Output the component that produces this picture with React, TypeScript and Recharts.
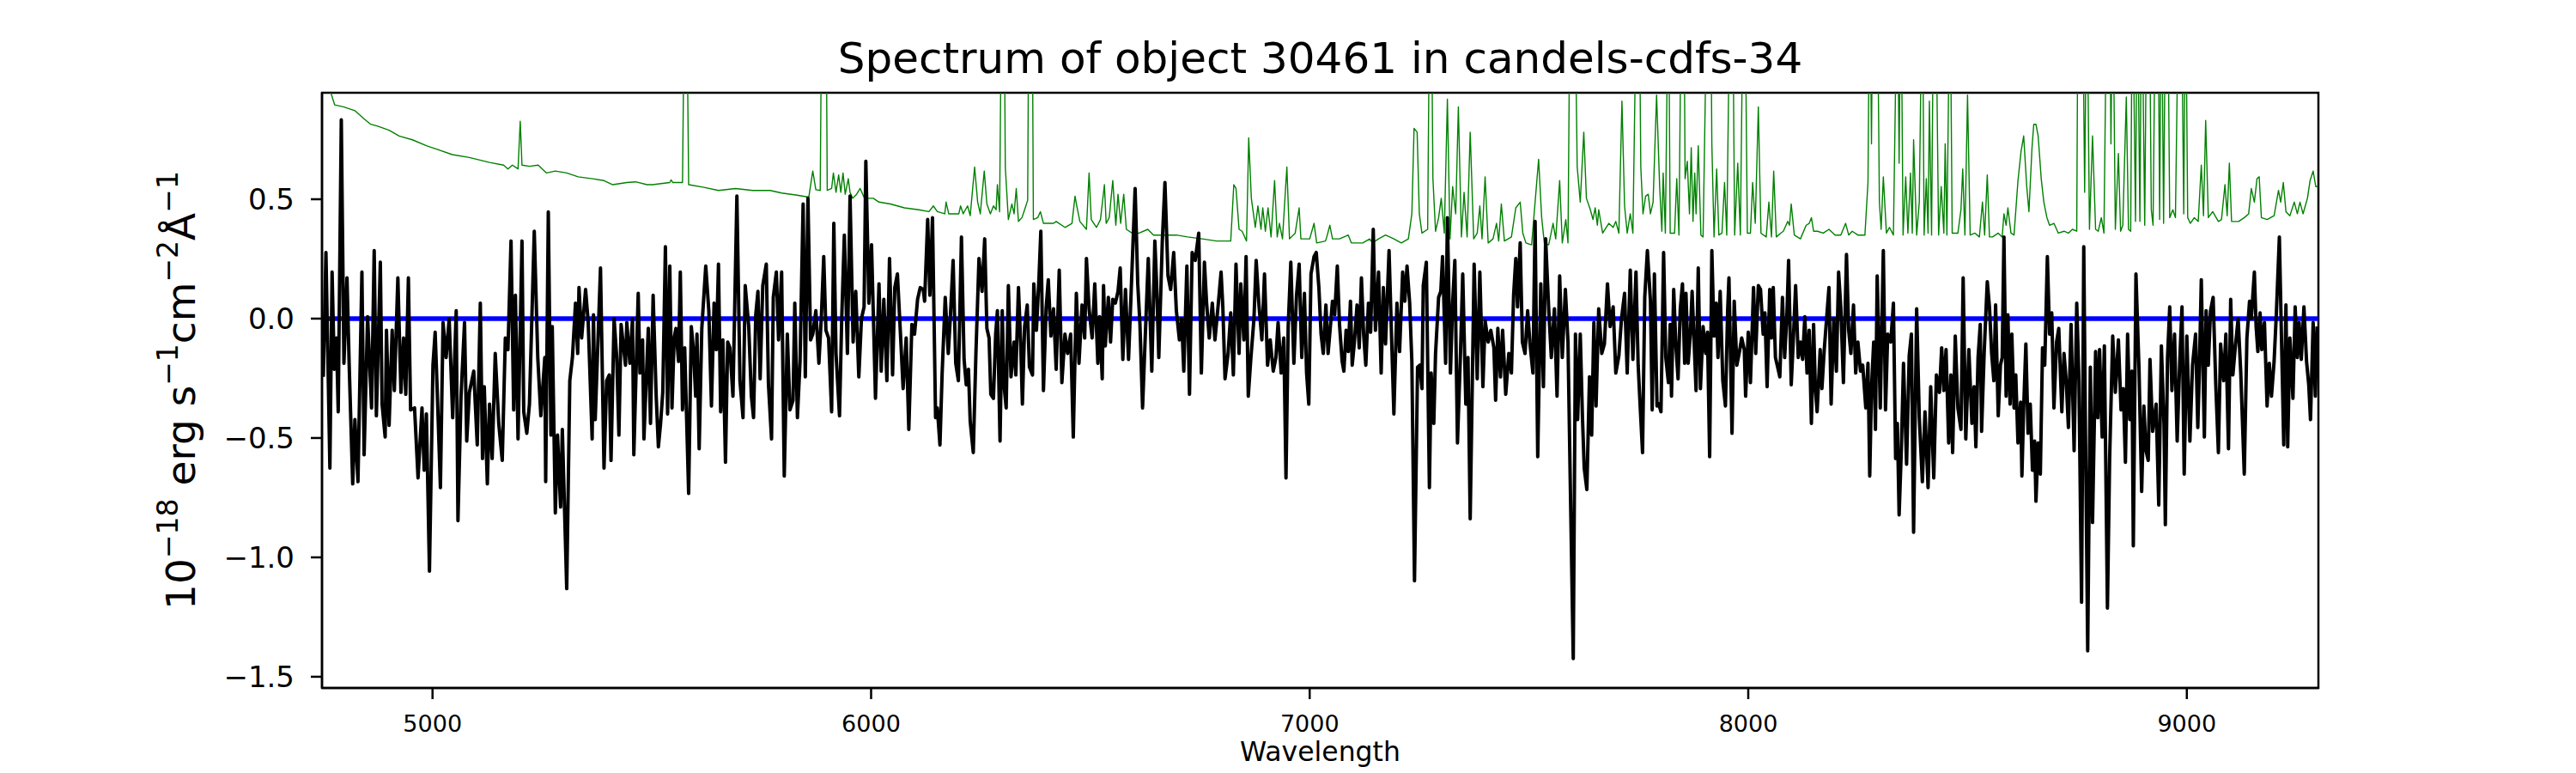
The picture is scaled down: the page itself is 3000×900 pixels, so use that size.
import React from 'react';
import { LineChart, Line, XAxis, YAxis, ReferenceArea } from 'recharts';

const FONT = '"DejaVu Sans", Verdana, sans-serif';

const titleText = 'Spectrum of object 30461 in candels-cdfs-34';
const xLabelText = 'Wavelength';
const wavelengthTicks = [5000, 6000, 7000, 8000, 9000];
const fluxTicks = [-1.5, -1.0, -0.5, 0.0, 0.5];
const wavelengthRange = [4748, 9300];
const fluxRange = [-1.547, 0.946];

// observed flux (black), [wavelength, flux]
const spectrum = [
  [4751,-0.244],[4757,0.277],[4766,-0.626],[4771,0.195],[4776,-0.212],[4781,-0.081],[4785,-0.390],[4792,0.833],[4798,-0.187],[4805,0.171],
  [4810,-0.195],[4818,-0.692],[4823,-0.423],[4830,-0.683],[4839,0.195],[4844,-0.570],[4852,0.008],[4861,-0.374],[4867,0.285],[4872,-0.407],
  [4881,0.236],[4885,-0.358],[4892,-0.496],[4895,-0.049],[4901,-0.447],[4908,-0.049],[4913,-0.301],[4921,0.171],[4928,-0.309],[4934,-0.081],
  [4939,-0.317],[4945,0.171],[4950,-0.382],[4959,-0.374],[4967,-0.667],[4976,-0.374],[4981,-0.635],[4986,-0.399],[4993,-1.058],[5001,-0.195],
  [5006,-0.057],[5011,-0.317],[5018,-0.708],[5024,-0.016],[5031,-0.163],[5038,0],[5046,-0.415],[5054,0.033],[5058,-0.846],[5065,-0.325],
  [5073,-0.016],[5078,-0.513],[5084,-0.309],[5094,-0.220],[5102,-0.529],[5109,0.065],[5114,-0.586],[5118,-0.285],[5125,-0.692],[5130,-0.358],
  [5136,-0.586],[5143,-0.146],[5151,-0.439],[5159,-0.594],[5166,-0.081],[5172,-0.130],[5179,0.325],[5185,-0.382],[5189,0.098],[5195,-0.504],
  [5204,0.325],[5208,-0.390],[5215,-0.480],[5221,-0.358],[5232,0.366],[5240,-0.163],[5247,-0.407],[5256,-0.163],[5258,-0.683],[5264,0.447],
  [5270,-0.488],[5273,-0.033],[5280,-0.814],[5285,-0.488],[5292,-0.789],[5296,-0.464],[5306,-1.131],[5313,-0.260],[5319,-0.163],[5326,0.065],
  [5331,-0.146],[5334,0.130],[5340,-0.081],[5349,0.122],[5355,-0.016],[5364,-0.504],[5367,0.016],[5371,-0.423],[5383,0.212],[5391,-0.626],
  [5397,-0.260],[5403,-0.236],[5407,-0.594],[5414,0],[5420,-0.163],[5425,-0.488],[5430,-0.024],[5440,-0.195],[5443,-0.016],[5450,-0.187],
  [5456,0],[5459,-0.570],[5469,0.106],[5473,-0.228],[5479,-0.089],[5482,-0.504],[5492,-0.041],[5497,-0.439],[5503,0.098],
  [5510,-0.325],[5515,-0.537],[5520,-0.439],[5525,-0.309],[5531,0.301],[5536,-0.399],[5541,0.220],[5546,-0.374],[5551,-0.081],[5555,-0.041],
  [5561,-0.179],[5565,0.195],[5570,-0.382],[5575,-0.122],[5584,-0.732],[5590,-0.033],[5595,-0.130],[5600,-0.325],[5603,-0.065],[5608,-0.545],
  [5614,-0.041],[5623,0.220],[5630,0.033],[5636,-0.366],[5642,0.065],[5647,-0.130],[5652,0.228],[5657,-0.390],[5662,-0.089],[5668,-0.602],
  [5673,-0.098],[5678,-0.122],[5685,-0.325],[5694,0.513],[5701,-0.260],[5708,-0.415],[5713,0.138],[5721,-0.033],[5727,-0.325],[5732,-0.415],
  [5737,0.016],[5742,0.114],[5747,-0.252],[5753,0.138],[5761,0.228],[5766,-0.277],[5773,-0.504],[5777,0.089],[5784,0.195],[5789,-0.089],
  [5796,0.195],[5802,-0.659],[5809,-0.065],[5815,-0.382],[5822,-0.342],[5826,0.065],[5832,-0.415],[5838,-0.179],[5845,0.480],[5850,-0.244],
  [5856,0.504],[5862,-0.089],[5867,-0.065],[5874,0.033],[5881,-0.187],[5887,0.024],[5892,0.260],[5897,-0.049],[5903,-0.081],[5910,-0.390],
  [5915,0.399],[5920,-0.146],[5928,-0.407],[5933,0],[5939,0.350],[5946,-0.146],[5952,0.513],[5959,-0.098],[5965,0.114],[5972,-0.244],
  [5978,0],[5984,0.049],[5988,0.659],[5995,0.065],[6001,0.309],[6010,-0.334],[6018,0.146],[6023,-0.220],[6029,0.081],[6036,-0.260],
  [6042,0.252],[6049,-0.236],[6054,0.130],[6060,0.187],[6067,-0.065],[6073,-0.293],[6080,-0.081],[6086,-0.464],[6093,-0.024],[6099,-0.065],
  [6106,0.081],[6112,0.130],[6119,0.122],[6122,0.073],[6129,0.415],[6134,0.098],[6140,0.423],[6147,-0.415],[6151,-0.374],[6157,-0.529],
  [6162,-0.228],[6169,0.089],[6176,-0.146],[6181,0.016],[6187,0.244],[6193,-0.187],[6199,-0.260],[6206,0.342],[6212,-0.171],[6217,-0.277],
  [6222,-0.212],[6226,-0.431],[6233,-0.561],[6239,-0.146],[6246,0.252],[6253,0.114],[6259,0.334],[6264,-0.041],
  [6269,-0.081],[6273,-0.317],[6279,-0.334],[6284,-0.065],[6288,0.033],[6294,-0.513],[6299,0.033],[6303,-0.277],[6308,-0.374],[6313,0.138],
  [6319,-0.244],[6326,-0.098],[6330,-0.236],[6336,0.130],[6341,-0.098],[6345,-0.358],[6350,-0.033],[6356,0.057],[6361,-0.203],[6368,-0.236],
  [6371,0.146],[6377,-0.049],[6383,0.179],[6387,0.366],[6393,-0.301],[6399,0.041],[6404,0.163],[6410,-0.073],[6416,0.041],[6422,-0.212],
  [6429,0.203],[6435,-0.268],[6442,-0.065],[6448,-0.146],[6455,-0.065],[6461,-0.496],[6468,0.106],[6474,-0.187],[6481,0.057],[6487,-0.081],
  [6491,0.252],[6497,0.041],[6504,-0.081],[6510,0.146],[6517,-0.187],[6521,0.008],[6527,-0.252],[6530,0.138],[6534,-0.114],[6541,0.089],
  [6546,-0.098],[6551,0.081],[6557,0.065],[6563,0.114],[6568,0.212],[6574,-0.171],[6580,0.122],[6587,-0.171],[6592,0.065],[6597,0.309],
  [6602,0.545],[6608,0.146],[6613,-0.024],[6619,-0.374],[6625,-0.081],[6632,0.252],[6640,-0.220],[6647,0.325],[6651,0.146],[6656,-0.163],
  [6664,0.325],[6670,0.570],[6677,0.179],[6683,0.122],[6690,0.277],[6696,0.033],[6703,-0.089],[6708,0],[6713,-0.220],[6720,0.220],
  [6726,-0.317],[6732,0.277],[6739,0.244],[6747,0.358],[6753,-0.228],[6760,0.236],[6765,0.065],[6771,-0.081],[6778,0.065],[6784,-0.089],
  [6791,0.049],[6798,0.195],[6802,0.049],[6807,-0.252],[6814,-0.146],[6820,0.024],[6826,-0.236],[6832,0.228],[6839,-0.146],[6843,0.146],
  [6850,-0.089],[6855,0.260],[6860,-0.325],[6866,-0.163],[6873,0],[6878,0.244],[6884,0.065],[6891,-0.089],[6897,0.187],[6904,-0.195],
  [6910,-0.089],[6917,-0.220],[6923,-0.163],[6928,-0.016],[6935,-0.228],[6941,-0.081],[6946,-0.667],[6951,-0.033],[6957,0.236],[6964,-0.187],
  [6970,0.098],[6976,0.228],[6982,-0.163],[6988,0.106],[6993,-0.228],[6998,-0.358],[7003,0.187],[7010,0.260],[7015,0.277],[7021,0.130],
  [7026,-0.065],[7031,-0.146],
  [7037,0.057],[7042,-0.146],[7048,-0.016],[7052,0.073],[7057,0.016],[7063,0.220],[7068,-0.024],[7074,-0.179],[7078,-0.220],[7083,-0.049],
  [7088,-0.138],[7093,0.073],[7097,-0.195],[7102,-0.098],[7108,0.057],[7113,-0.122],[7118,0.171],[7123,-0.065],[7128,-0.195],[7134,0.065],
  [7139,-0.057],[7145,0.374],[7150,-0.049],[7157,0.195],[7163,-0.228],[7168,0.130],[7173,-0.106],[7181,0.285],[7186,-0.033],[7192,-0.399],
  [7199,0.065],[7205,-0.138],[7212,0.195],[7217,0.073],[7222,0.220],[7228,0.065],[7233,-0.179],[7239,-1.098],[7246,-0.203],[7251,-0.195],
  [7256,-0.293],[7259,0.138],[7266,0.236],[7273,-0.708],[7277,-0.228],[7283,-0.439],[7287,-0.146],[7294,0.089],[7299,0.114],[7303,0.260],
  [7310,-0.187],[7314,0.423],[7321,-0.228],[7326,0.065],[7331,0.244],[7337,-0.521],[7344,-0.138],[7349,0.187],[7356,-0.358],[7361,-0.163],
  [7366,-0.838],[7375,0.228],[7382,-0.252],[7388,0.195],[7395,-0.285],[7400,-0.008],[7407,-0.098],[7413,-0.049],[7420,-0.122],[7424,-0.342],
  [7429,-0.041],[7435,-0.244],[7440,-0.049],[7447,-0.317],[7454,-0.146],[7460,-0.228],[7465,0.098],[7470,0.252],[7474,0.049],[7480,0.317],
  [7485,-0.098],[7491,-0.146],[7497,0.033],[7502,-0.098],[7509,-0.228],[7514,0.407],[7520,-0.578],[7527,0.146],[7533,-0.285],[7538,0.334],
  [7545,0.041],[7551,-0.163],[7558,0.041],[7564,-0.325],[7570,0.179],[7576,-0.163],[7583,0.122],[7589,-0.098],[7594,-0.667],[7601,-1.424],
  [7606,-0.065],[7611,-0.423],[7617,-0.065],[7622,-0.415],[7626,-0.626],[7632,-0.716],[7638,-0.244],[7643,-0.488],[7648,-0.016],[7653,-0.366],
  [7659,0.041],[7666,-0.146],[7672,-0.106],[7679,0.146],[7685,-0.033],[7692,0.049],[7698,-0.228],[7705,-0.155],[7711,0],[7718,0.106],
  [7724,-0.228],[7731,0.203],[7737,-0.171],[7744,0.195],[7749,-0.195],[7754,-0.382],[7759,-0.561],[7764,0.089],[7770,0.285],[7777,0.073],
  [7781,-0.382],[7786,0.187],[7792,-0.366],
  [7796,-0.358],[7801,-0.390],[7807,0.277],[7812,-0.163],[7818,-0.268],[7822,-0.024],[7825,-0.325],[7830,0.122],[7835,-0.114],[7840,-0.252],
  [7845,0.041],[7850,0.146],[7855,-0.187],[7858,0.106],[7863,-0.187],[7868,-0.065],[7872,0.114],[7878,-0.163],[7881,-0.301],[7886,0.212],
  [7891,-0.293],[7897,-0.033],[7903,-0.146],[7907,-0.057],[7912,-0.578],[7917,0.285],[7922,-0.073],[7927,0.065],[7931,-0.163],[7936,0.114],
  [7942,-0.260],[7948,-0.366],[7953,0.033],[7956,0.171],[7963,-0.480],[7968,0.073],[7974,-0.195],[7980,-0.138],[7985,-0.081],[7991,-0.130],
  [7994,-0.325],[8000,-0.057],[8005,-0.268],[8012,0.130],[8017,-0.146],[8023,0.138],[8028,0.122],[8034,-0.065],[8038,0.024],[8043,-0.285],
  [8049,0.122],[8053,-0.081],[8057,0.130],[8062,-0.163],[8067,-0.203],[8072,-0.244],[8078,0.089],[8083,-0.163],[8088,0.008],[8092,0.244],
  [8098,-0.277],[8103,-0.081],[8108,0.138],[8114,-0.163],[8119,-0.098],[8124,-0.171],[8129,0.008],[8134,-0.228],[8139,-0.049],[8144,-0.439],
  [8149,-0.024],[8153,-0.293],[8157,-0.390],[8164,-0.130],[8168,-0.293],[8173,-0.138],[8178,-0.016],[8184,0.130],[8189,-0.358],[8195,0],
  [8201,-0.220],[8206,0.195],[8211,0.049],[8217,-0.268],[8224,0.269],[8229,-0.049],[8234,-0.146],[8240,0.057],[8245,-0.228],[8250,-0.098],
  [8256,-0.220],[8261,-0.195],[8268,-0.374],[8273,-0.187],[8277,-0.659],[8281,-0.293],[8286,-0.098],[8290,-0.464],[8294,0.179],[8301,-0.374],
  [8308,0.285],[8313,-0.382],[8318,-0.065],[8325,-0.098],[8331,0.065],[8336,-0.586],[8340,-0.439],[8344,-0.822],[8349,-0.553],[8354,-0.187],
  [8361,-0.610],[8367,-0.155],[8372,-0.065],[8377,-0.895],[8384,0.041],[8390,-0.415],[8397,-0.683],[8403,-0.390],[8410,-0.708],[8416,-0.285],
  [8423,-0.667],[8429,-0.236],[8436,-0.309],[8441,-0.122],[8446,-0.301],[8451,-0.130],[8457,-0.521],[8462,-0.236],[8466,-0.561],[8472,-0.073],
  [8478,-0.374],[8485,-0.464],[8490,0.171],[8496,-0.504],[8503,-0.130],[8510,-0.439],[8515,-0.285],[8519,-0.537],[8524,-0.163],[8529,-0.024],
  [8532,-0.472],[8538,-0.138],[8545,0.155],[8550,0.049],[8555,-0.146],
  [8560,-0.260],[8564,0.057],[8570,-0.407],[8575,-0.195],[8579,-0.163],[8583,0.342],[8588,-0.325],[8592,0.016],[8597,-0.358],[8601,-0.065],
  [8606,-0.374],[8610,-0.236],[8615,-0.521],[8621,-0.350],[8624,-0.659],[8628,-0.374],[8633,-0.106],[8638,-0.480],[8643,-0.358],[8648,-0.635],
  [8653,-0.513],[8656,-0.765],[8661,-0.521],[8666,-0.651],[8671,-0.122],[8676,-0.195],[8682,0.260],[8687,-0.065],[8692,0.024],[8697,-0.374],
  [8703,-0.098],[8708,-0.041],[8715,-0.390],[8720,-0.146],[8725,-0.260],[8730,-0.456],[8736,-0.024],[8743,-0.553],[8749,0.065],[8754,-0.260],
  [8760,-1.188],[8765,0.301],[8769,-0.488],[8774,-1.391],[8780,-0.203],[8785,-0.854],[8792,-0.138],[8797,-0.415],[8801,-0.130],[8807,-0.496],
  [8812,-0.114],[8819,-1.212],[8824,-0.586],[8831,-0.073],[8837,-0.309],[8844,-0.089],[8850,-0.382],[8855,-0.293],[8860,-0.602],[8865,-0.065],
  [8870,-0.423],[8875,-0.220],[8878,-0.952],[8884,0.187],[8891,-0.212],[8897,-0.724],[8902,-0.366],[8907,-0.553],[8912,-0.594],[8916,-0.171],
  [8922,-0.472],[8930,-0.358],[8936,-0.781],[8942,-0.114],[8948,-0.447],[8951,-0.863],[8956,-0.163],[8961,0.049],[8966,-0.301],[8972,-0.065],
  [8978,-0.513],[8984,-0.171],[8989,0.049],[8994,-0.651],[9000,-0.073],[9007,-0.513],[9013,-0.195],[9020,-0.065],[9025,-0.456],[9028,-0.260],
  [9033,0.163],[9040,-0.496],[9044,0.033],[9049,-0.195],[9054,0.033],[9060,0.089],[9066,-0.277],[9072,-0.561],[9077,-0.106],[9084,-0.260],
  [9089,-0.065],[9095,-0.545],[9100,0.081],[9105,-0.236],[9110,-0.130],[9117,0],[9123,-0.228],[9131,-0.651],[9137,-0.081],[9143,0.073],
  [9147,0],[9154,0.195],[9158,-0.033],[9162,-0.138],[9167,0.024],[9171,-0.130],[9177,-0.016],[9183,-0.366],[9188,-0.187],[9193,-0.325],
  [9199,-0.179],[9204,0.016],[9211,0.342],[9216,-0.098],[9221,-0.529],[9226,0.057],[9230,-0.537],[9235,-0.081],[9242,-0.334],[9247,0.049],
  [9252,-0.163],[9256,-0.016],[9261,-0.171],[9267,0.049],[9273,-0.179],[9278,-0.277],[9282,-0.423],[9288,-0.016],[9293,-0.325],[9297,-0.033],
];

// sky / noise spectrum (green), [wavelength, flux]; 1.5 marks peaks that run off the top
const sky = [
  [4750,1.05],[4768,0.947],[4777,0.895],[4797,0.887],[4823,0.871],[4843,0.838],[4859,0.814],[4875,0.806],[4901,0.789],[4924,0.765],
  [4954,0.749],[4986,0.724],[5012,0.708],[5045,0.687],[5084,0.675],[5130,0.654],[5162,0.643],[5172,0.627],[5182,0.643],[5195,0.627],
  [5200,0.827],[5204,0.643],[5221,0.638],[5241,0.643],[5260,0.610],[5280,0.618],[5306,0.610],[5332,0.594],[5365,0.586],[5391,0.578],
  [5411,0.561],[5443,0.570],[5463,0.573],[5489,0.561],[5502,0.561],[5541,0.570],[5544,0.581],[5548,0.570],[5570,0.570],[5575,1.5],
  [5579,1.5],[5584,0.561],[5619,0.550],[5652,0.537],[5691,0.545],[5730,0.537],[5770,0.537],[5796,0.526],[5828,0.518],[5858,0.509],
  [5867,0.618],[5874,0.540],[5884,0.537],[5888,1.5],[5897,1.5],[5900,0.537],[5910,0.545],[5914,0.610],[5920,0.529],[5926,0.602],
  [5931,0.529],[5936,0.610],[5941,0.521],[5948,0.586],[5952,0.529],[5958,0.504],[5967,0.521],[5975,0.545],[5985,0.504],[6005,0.504],
  [6018,0.488],[6044,0.480],[6076,0.464],[6109,0.456],[6132,0.448],[6142,0.472],[6151,0.448],[6168,0.439],[6171,0.488],[6177,0.439],
  [6200,0.439],[6204,0.472],[6210,0.439],[6220,0.472],[6226,0.431],[6236,0.635],[6243,0.488],[6249,0.439],[6258,0.618],[6264,0.480],
  [6272,0.439],[6279,0.472],[6285,0.456],[6288,0.561],[6293,0.448],[6298,1.5],[6303,1.5],[6306,0.635],[6313,0.415],[6321,0.480],
  [6326,0.439],[6331,0.545],[6336,0.407],[6344,0.423],[6350,0.456],[6357,0.496],[6360,1.5],[6367,1.5],[6370,0.415],[6380,0.423],
  [6386,0.448],[6393,0.399],[6416,0.399],[6422,0.407],[6442,0.382],[6458,0.399],[6465,0.513],[6469,0.472],[6476,0.407],[6491,0.374],
  [6497,0.610],[6502,0.415],[6514,0.382],[6523,0.415],[6532,0.561],[6536,0.399],[6543,0.423],[6551,0.578],[6558,0.391],[6563,0.521],
  [6569,0.399],[6576,0.521],[6582,0.374],[6595,0.358],[6611,0.358],[6631,0.374],[6644,0.350],[6670,0.350],[6696,0.350],[6722,0.342],
  [6755,0.334],[6788,0.325],[6820,0.325],[6827,0.561],[6832,0.545],[6839,0.374],[6846,0.366],[6856,0.325],[6861,0.757],[6867,0.504],
  [6876,0.382],[6882,0.472],[6889,0.374],[6893,0.464],[6899,0.366],[6905,0.464],[6912,0.342],[6920,0.578],[6926,0.342],[6931,0.399],
  [6938,0.334],[6948,0.635],[6954,0.334],[6967,0.358],[6976,0.464],[6980,0.334],[7000,0.334],[7010,0.399],[7016,0.317],[7036,0.325],
  [7039,0.342],[7046,0.391],[7052,0.334],[7068,0.334],[7088,0.350],[7095,0.317],[7121,0.317],[7137,0.334],[7143,0.317],[7157,0.334],
  [7173,0.350],[7192,0.334],[7209,0.317],[7225,0.334],[7233,0.439],[7238,0.797],[7245,0.781],[7250,0.439],[7256,0.358],[7269,0.374],
  [7274,1.5],[7277,1.5],[7281,0.586],[7287,0.366],[7294,0.423],[7300,0.504],[7307,0.358],[7314,0.919],[7320,0.334],[7326,0.553],
  [7333,0.439],[7339,0.887],[7346,0.342],[7352,0.529],[7359,0.342],[7366,0.781],[7374,0.334],[7382,0.358],[7388,0.472],[7393,0.334],
  [7400,0.594],[7407,0.317],[7418,0.334],[7426,0.399],[7431,0.325],[7437,0.480],[7444,0.325],[7460,0.342],[7470,0.464],[7480,0.488],
  [7486,0.358],[7493,0.317],[7506,0.309],[7522,0.667],[7529,0.423],[7535,0.317],[7545,0.309],[7555,0.399],[7561,0.334],[7570,0.578],
  [7576,0.317],[7584,0.415],[7589,0.317],[7594,1.5],[7604,1.5],[7610,0.635],[7617,0.488],[7625,0.781],[7631,0.504],[7640,0.456],
  [7646,0.415],[7651,0.464],[7656,0.391],[7659,0.456],[7668,0.358],[7682,0.399],[7692,0.382],[7698,0.407],[7705,0.358],[7712,0.911],
  [7718,0.472],[7724,0.358],[7731,0.439],[7737,0.358],[7746,1.5],[7751,1.5],[7755,0.635],[7760,0.439],[7766,0.513],[7772,0.521],
  [7777,0.439],[7783,0.488],[7791,0.936],[7798,0.553],[7803,0.366],[7806,0.610],[7811,0.358],[7818,1.5],[7822,0.358],[7832,0.358],
  [7837,0.586],[7842,0.350],[7848,1.5],[7853,1.5],[7856,0.586],[7861,0.659],[7866,0.439],[7870,0.716],[7874,0.407],[7878,0.610],
  [7881,0.439],[7886,0.724],[7892,0.350],[7897,0.342],[7907,1.5],[7914,1.5],[7917,0.732],[7922,0.342],[7928,0.627],[7933,0.350],
  [7940,0.358],[7946,0.570],[7951,0.350],[7959,1.5],[7964,1.5],[7969,0.350],[7976,0.651],[7982,0.350],[7989,1.5],[7992,1.5],
  [7998,0.358],[8005,0.358],[8010,0.570],[8016,0.399],[8023,0.887],[8029,0.358],[8041,0.342],[8047,0.488],[8053,0.342],[8058,0.618],
  [8064,0.342],[8074,0.358],[8080,0.366],[8090,0.407],[8094,0.391],[8098,0.480],[8105,0.350],[8119,0.334],[8132,0.391],[8139,0.399],
  [8144,0.423],[8149,0.366],[8158,0.366],[8171,0.358],[8184,0.374],[8198,0.350],[8211,0.350],[8222,0.399],[8229,0.350],[8237,0.366],
  [8250,0.350],[8266,0.350],[8273,0.570],[8277,1.5],[8281,0.732],[8284,1.5],[8294,1.5],[8299,0.488],[8303,0.374],[8308,0.594],
  [8315,0.358],[8322,0.382],[8331,0.350],[8340,1.5],[8344,0.651],[8348,1.5],[8353,0.350],[8359,0.594],[8364,0.358],[8370,0.610],
  [8374,0.358],[8377,0.749],[8384,0.350],[8390,0.488],[8397,1.5],[8401,0.350],[8406,0.586],[8410,0.358],[8413,0.911],[8418,0.350],
  [8423,1.5],[8427,1.5],[8434,0.350],[8440,0.553],[8446,0.358],[8449,0.732],[8453,0.350],[8460,1.5],[8465,0.358],[8478,0.358],
  [8485,0.456],[8489,0.627],[8494,0.350],[8500,0.936],[8506,0.350],[8517,0.358],[8527,0.342],[8534,0.488],[8539,0.350],[8545,0.602],
  [8550,0.342],[8557,0.342],[8570,0.358],[8579,0.342],[8583,0.439],[8588,0.391],[8592,0.464],[8599,0.358],[8606,0.350],[8615,0.578],
  [8622,0.700],[8628,0.765],[8635,0.553],[8640,0.448],[8647,0.716],[8651,0.814],[8656,0.814],[8661,0.765],[8668,0.586],[8674,0.488],
  [8681,0.423],[8687,0.391],[8697,0.399],[8707,0.358],[8720,0.366],[8730,0.358],[8739,0.374],[8749,0.366],[8752,1.5],[8762,1.5],
  [8767,0.529],[8772,1.5],[8778,0.374],[8785,0.765],[8792,0.374],[8798,0.366],[8805,0.423],[8811,0.358],[8818,1.5],[8824,1.5],
  [8827,0.732],[8831,1.5],[8837,0.374],[8844,0.692],[8849,0.366],[8854,0.391],[8862,0.928],[8867,0.374],[8872,0.366],[8876,1.5],
  [8883,0.407],[8887,1.5],[8893,0.407],[8897,1.5],[8904,0.391],[8909,1.5],[8914,1.5],[8919,0.456],[8923,0.391],[8929,1.5],
  [8934,1.5],[8938,0.415],[8942,1.5],[8947,0.399],[8952,1.5],[8956,1.5],[8961,0.423],[8968,0.456],[8974,0.423],[8982,1.5],
  [8987,1.5],[8993,0.439],[8997,1.5],[9002,0.423],[9008,0.399],[9017,0.423],[9026,0.407],[9033,0.643],[9038,0.431],[9043,0.830],
  [9049,0.423],[9059,0.448],[9072,0.407],[9079,0.415],[9087,0.561],[9092,0.431],[9097,0.651],[9102,0.407],[9118,0.407],[9131,0.423],
  [9141,0.439],[9147,0.545],[9154,0.488],[9160,0.586],[9165,0.594],[9170,0.423],[9183,0.415],[9199,0.431],[9209,0.537],[9214,0.488],
  [9220,0.570],[9226,0.448],[9235,0.431],[9245,0.488],[9252,0.439],[9258,0.488],[9265,0.439],[9275,0.504],[9281,0.578],[9288,0.618],
  [9294,0.553],[9299,0.553],
];

// zero level (blue)
const zeroLevel = [[4748, 0], [9300, 0]];

const toRows = (pairs: number[][]) => pairs.map(([w, v]) => ({ w, v }));
const spectrumRows = toRows(spectrum);
const skyRows = toRows(sky);
const zeroRows = toRows(zeroLevel);

const fmtFlux = (v: number) => v.toFixed(1).replace('-', '\u2212');

export default function App() {
  const W = 3000;
  const H = 900;
  const supDy = 20;
  return (
    <div style={{ position: 'absolute', left: 0, top: 0, width: W, height: H, background: '#fff' }}>
      <LineChart
        width={W}
        height={H}
        margin={{ top: 108, right: 300, bottom: 39, left: 175 }}
        style={{ fontFamily: FONT }}
      >
        <XAxis
          type="number"
          dataKey="w"
          domain={wavelengthRange}
          ticks={wavelengthTicks}
          allowDataOverflow
          height={60}
          axisLine={{ stroke: '#000', strokeWidth: 2.5 }}
          tickLine={{ stroke: '#000', strokeWidth: 2.5 }}
          tickSize={13}
          tickMargin={19}
          tick={{ fill: '#000', fontSize: 27, fontFamily: FONT }}
        />
        <YAxis
          type="number"
          dataKey="v"
          domain={fluxRange}
          ticks={fluxTicks}
          allowDataOverflow
          width={200}
          axisLine={{ stroke: '#000', strokeWidth: 2.5 }}
          tickLine={{ stroke: '#000', strokeWidth: 2.5 }}
          tickSize={13}
          tickMargin={19}
          tickFormatter={fmtFlux}
          tick={{ fill: '#000', fontSize: 34, fontFamily: FONT }}
        />
        <ReferenceArea
          x1={wavelengthRange[0]}
          x2={wavelengthRange[1]}
          y1={fluxRange[0]}
          y2={fluxRange[1]}
          fill="none"
          fillOpacity={0}
          stroke="#000"
          strokeWidth={2.5}
        />
        <Line
          data={skyRows}
          dataKey="v"
          type="linear"
          stroke="#008000"
          strokeWidth={1.4}
          dot={false}
          activeDot={false}
          isAnimationActive={false}
          strokeLinejoin="round"
        />
        <Line
          data={zeroRows}
          dataKey="v"
          type="linear"
          stroke="#0000ff"
          strokeWidth={5.6}
          dot={false}
          activeDot={false}
          isAnimationActive={false}
        />
        <Line
          data={spectrumRows}
          dataKey="v"
          type="linear"
          stroke="#000000"
          strokeWidth={4}
          dot={false}
          activeDot={false}
          isAnimationActive={false}
          strokeLinejoin="round"
        />
      </LineChart>
      <svg
        width={W}
        height={H}
        style={{ position: 'absolute', left: 0, top: 0, pointerEvents: 'none' }}
        fontFamily={FONT}
      >
        <text x={1537.5} y={85} textAnchor="middle" fontSize={50} fill="#000">
          {titleText}
        </text>
        <text x={1537.5} y={886} textAnchor="middle" fontSize={31.5} fill="#000">
          {xLabelText}
        </text>
        <text transform="translate(227,454.5) rotate(-90)" textAnchor="middle" fontSize={47} fill="#000">
          <tspan>10</tspan>
          <tspan dy={-supDy} fontSize={33}>{'\u221218'}</tspan>
          <tspan dy={supDy}>{' erg s'}</tspan>
          <tspan dy={-supDy} fontSize={33}>{'\u22121'}</tspan>
          <tspan dy={supDy}>cm</tspan>
          <tspan dy={-supDy} fontSize={33}>{'\u22122'}</tspan>
          <tspan dy={supDy}>{'\u00c5'}</tspan>
          <tspan dy={-supDy} fontSize={33}>{'\u22121'}</tspan>
        </text>
      </svg>
    </div>
  );
}
